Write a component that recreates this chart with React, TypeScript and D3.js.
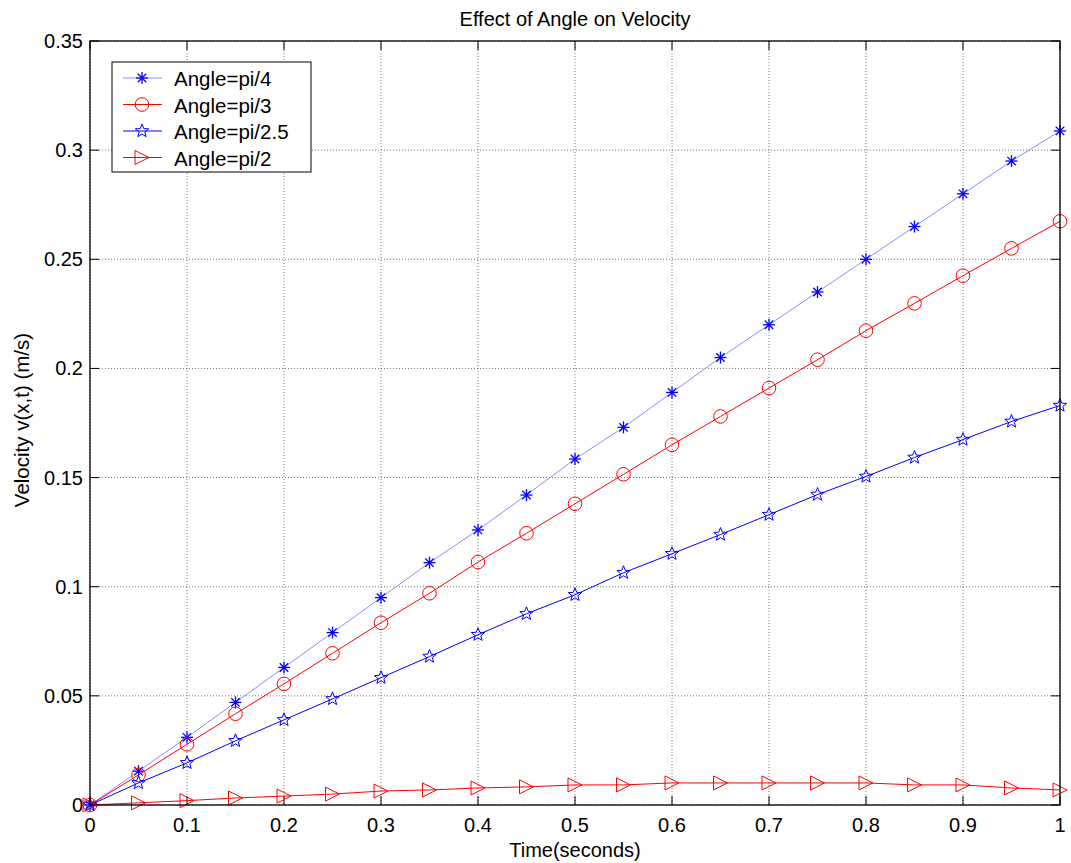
import React from "react";
import * as d3 from "d3";

const times = d3.range(21).map((i) => i * 0.05);
const seriesNames = ["Angle=pi/4", "Angle=pi/3", "Angle=pi/2.5", "Angle=pi/2"];
const piOver4 = [0, 0.0155, 0.031, 0.047, 0.063, 0.079, 0.095, 0.111, 0.126, 0.142, 0.1585, 0.173, 0.189, 0.205, 0.22, 0.235, 0.25, 0.265, 0.28, 0.295, 0.3088];
const piOver3 = [0, 0.0138, 0.0278, 0.0418, 0.0555, 0.0695, 0.0835, 0.097, 0.1113, 0.1245, 0.138, 0.1515, 0.165, 0.178, 0.191, 0.204, 0.2173, 0.2298, 0.2425, 0.255, 0.2674];
const piOver25 = [0, 0.0101, 0.0193, 0.0294, 0.039, 0.0486, 0.0583, 0.068, 0.078, 0.0876, 0.0963, 0.1064, 0.1151, 0.1239, 0.133, 0.1422, 0.1505, 0.1592, 0.1674, 0.1757, 0.183];
const piOver2 = [0, 0.001, 0.002, 0.0032, 0.0041, 0.005, 0.0064, 0.0069, 0.0078, 0.0083, 0.0092, 0.0092, 0.0101, 0.0101, 0.0101, 0.0101, 0.0101, 0.0092, 0.0092, 0.0078, 0.0069];
const xTicks = [0, 0.1, 0.2, 0.3, 0.4, 0.5, 0.6, 0.7, 0.8, 0.9, 1];
const yTicks = [0, 0.05, 0.1, 0.15, 0.2, 0.25, 0.3, 0.35];

const W = 1071, H = 863;
const L = 90, R = 1060, T = 41, B = 805;
const x = d3.scaleLinear().domain([0, 1]).range([L, R]);
const y = d3.scaleLinear().domain([0, 0.35]).range([B, T]);
const FONT = "Arial, 'Liberation Sans', sans-serif";

type Marker = "asterisk" | "circle" | "star" | "triangle";
const styles: { values: number[]; line: string; color: string; marker: Marker }[] = [
  { values: piOver4, line: "#8c8cff", color: "#0000ff", marker: "asterisk" },
  { values: piOver3, line: "#ff0000", color: "#ff0000", marker: "circle" },
  { values: piOver25, line: "#0000ff", color: "#0000ff", marker: "star" },
  { values: piOver2, line: "#ff0000", color: "#ff0000", marker: "triangle" },
];

function MarkerShape({ type, cx, cy, color }: { type: Marker; cx: number; cy: number; color: string }) {
  if (type === "circle") return <circle cx={cx} cy={cy} r={6.8} fill="none" stroke={color} strokeWidth={1} />;
  if (type === "triangle") {
    const s = 7;
    return <path d={`M${cx - s},${cy - s}L${cx + s},${cy}L${cx - s},${cy + s}Z`} fill="none" stroke={color} strokeWidth={1} />;
  }
  if (type === "star") {
    const pts: string[] = [];
    for (let i = 0; i < 10; i++) {
      const r = i % 2 === 0 ? 7 : 3;
      const a = -Math.PI / 2 + (i * Math.PI) / 5;
      pts.push(`${cx + r * Math.cos(a)},${cy + r * Math.sin(a)}`);
    }
    return <polygon points={pts.join(" ")} fill="none" stroke={color} strokeWidth={1} />;
  }
  const s = 6;
  return (
    <g stroke={color} strokeWidth={1.3}>
      <line x1={cx - s} y1={cy} x2={cx + s} y2={cy} />
      <line x1={cx} y1={cy - s} x2={cx} y2={cy + s} />
      <line x1={cx - s * 0.7} y1={cy - s * 0.7} x2={cx + s * 0.7} y2={cy + s * 0.7} />
      <line x1={cx - s * 0.7} y1={cy + s * 0.7} x2={cx + s * 0.7} y2={cy - s * 0.7} />
    </g>
  );
}

export default function App() {
  const lineGen = (vals: number[]) =>
    d3.line<number>().x((_, i) => x(times[i])).y((v) => y(v))(vals) || "";
  return (
    <svg width={W} height={H} style={{ position: "absolute", left: 0, top: 0, background: "#fff" }}>
      <rect x={0} y={0} width={W} height={H} fill="#fff" />
      {/* grid */}
      {xTicks.map((t) => (
        <line key={"gx" + t} x1={x(t)} x2={x(t)} y1={T} y2={B} stroke="#555" strokeWidth={0.8} strokeDasharray="1,2" />
      ))}
      {yTicks.map((t) => (
        <line key={"gy" + t} x1={L} x2={R} y1={y(t)} y2={y(t)} stroke="#555" strokeWidth={0.8} strokeDasharray="1,2" />
      ))}
      {/* ticks */}
      {xTicks.map((t) => (
        <g key={"tx" + t}>
          <line x1={x(t)} x2={x(t)} y1={B} y2={B - 9} stroke="#000" />
          <line x1={x(t)} x2={x(t)} y1={T} y2={T + 9} stroke="#000" />
          <text x={x(t)} y={B + 27} textAnchor="middle" fontFamily={FONT} fontSize={20}>{d3.format("~g")(t)}</text>
        </g>
      ))}
      {yTicks.map((t) => (
        <g key={"ty" + t}>
          <line x1={L} x2={L + 9} y1={y(t)} y2={y(t)} stroke="#000" />
          <line x1={R} x2={R - 9} y1={y(t)} y2={y(t)} stroke="#000" />
          <text x={L - 7} y={y(t) + 7} textAnchor="end" fontFamily={FONT} fontSize={20}>{d3.format("~g")(t)}</text>
        </g>
      ))}
      {/* series */}
      {styles.map((s, si) => (
        <g key={"s" + si}>
          <path d={lineGen(s.values)} fill="none" stroke={s.line} strokeWidth={1} />
          {s.values.map((v, i) => (
            <MarkerShape key={i} type={s.marker} cx={x(times[i])} cy={y(v)} color={s.color} />
          ))}
        </g>
      ))}
      {/* axes box */}
      <rect x={L} y={T} width={R - L} height={B - T} fill="none" stroke="#000" strokeWidth={1.3} />
      {/* legend */}
      <rect x={112} y={62} width={199} height={110} fill="#fff" stroke="#000" strokeWidth={1} />
      {styles.map((s, i) => {
        const ly = 78 + i * 26.5;
        return (
          <g key={"lg" + i}>
            <line x1={123} x2={162} y1={ly} y2={ly} stroke={s.line} strokeWidth={1} />
            <MarkerShape type={s.marker} cx={142} cy={ly} color={s.color} />
            <text x={174} y={ly + 8} fontFamily={FONT} fontSize={20.5}>{seriesNames[i]}</text>
          </g>
        );
      })}
      {/* labels */}
      <text x={(L + R) / 2} y={26} textAnchor="middle" fontFamily={FONT} fontSize={20}>Effect of Angle on Velocity</text>
      <text x={(L + R) / 2} y={857} textAnchor="middle" fontFamily={FONT} fontSize={20}>Time(seconds)</text>
      <text transform={`translate(29,${(T + B) / 2 - 3}) rotate(-90)`} textAnchor="middle" fontFamily={FONT} fontSize={20.5}>Velocity v(x,t) (m/s)</text>
    </svg>
  );
}
